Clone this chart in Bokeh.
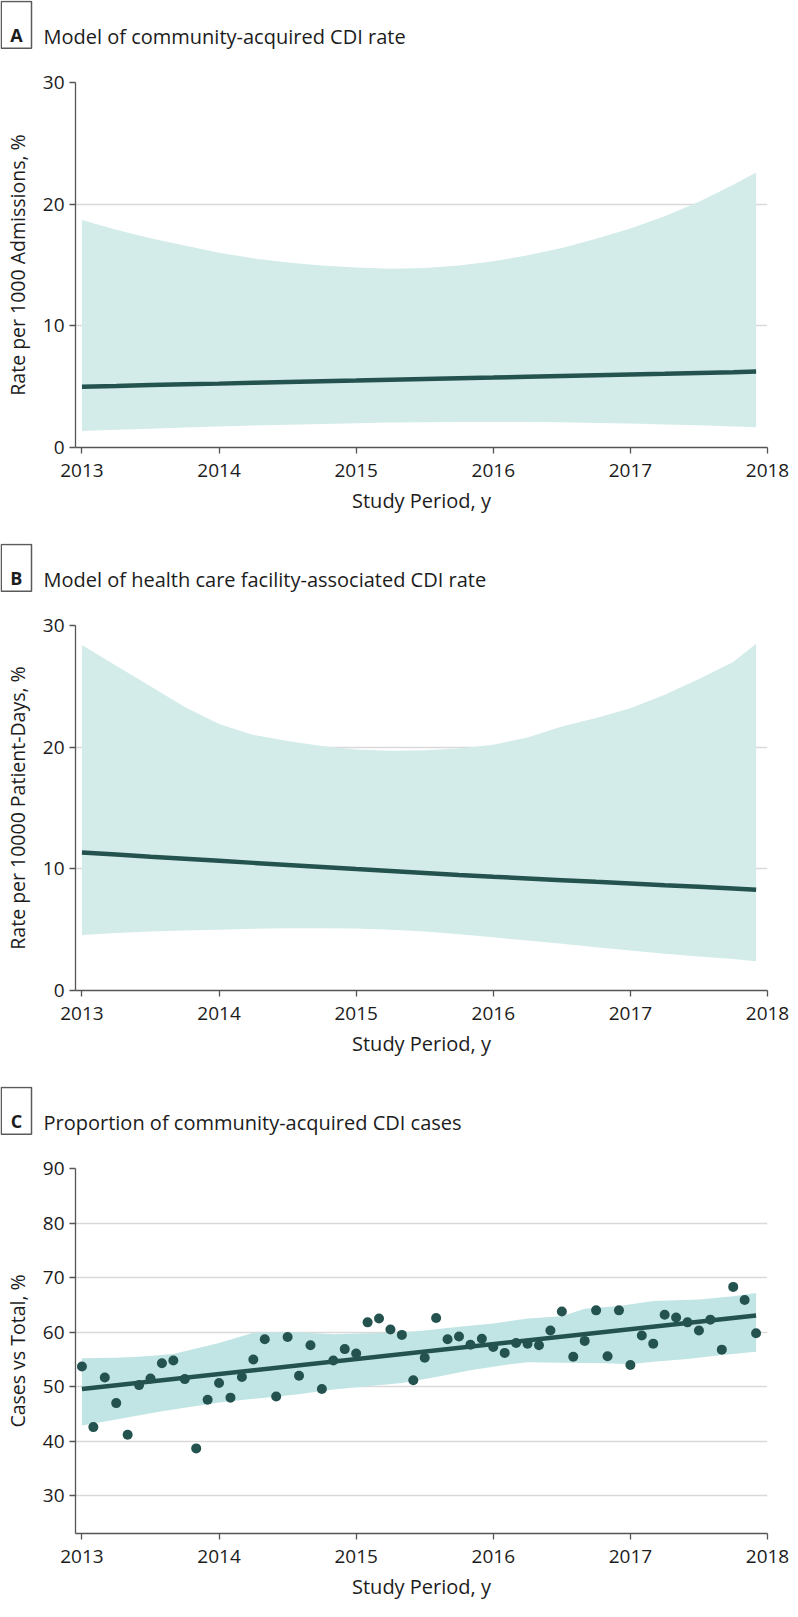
from bokeh.plotting import figure
from bokeh.layouts import column
from bokeh.models import FixedTicker, Range1d
from bokeh.core.properties import value
from bokeh.embed import file_html
from bokeh.resources import INLINE

# ---------------- data ----------------
year_ticks = [2013, 2014, 2015, 2016, 2017, 2018]

model_years = [2013.0, 2013.25, 2013.5, 2013.75, 2014.0, 2014.25, 2014.5, 2014.75, 2015.0, 2015.25, 2015.5,
               2015.75, 2016.0, 2016.25, 2016.5, 2016.75, 2017.0, 2017.25, 2017.5, 2017.75, 2017.917]

# Panel A: community-acquired CDI rate per 1000 admissions
a_fit = [5.0, 5.06, 5.13, 5.19, 5.25, 5.32, 5.38, 5.44, 5.5, 5.57, 5.63,
         5.69, 5.75, 5.82, 5.88, 5.94, 6.0, 6.06, 6.13, 6.19, 6.25]
a_upper = [18.7, 17.9, 17.2, 16.6, 16.0, 15.55, 15.2, 14.95, 14.8, 14.7, 14.75,
           14.95, 15.3, 15.8, 16.4, 17.15, 18.0, 19.0, 20.2, 21.6, 22.6]
a_lower = [1.35, 1.45, 1.55, 1.64, 1.72, 1.8, 1.88, 1.94, 2.0, 2.05, 2.08,
           2.1, 2.1, 2.09, 2.07, 2.02, 1.97, 1.9, 1.82, 1.73, 1.67]

# Panel B: health care facility-associated CDI rate per 10000 patient-days
b_fit = [11.35, 11.18, 11.0, 10.83, 10.66, 10.49, 10.32, 10.15, 9.98, 9.82, 9.66,
         9.5, 9.35, 9.21, 9.07, 8.93, 8.8, 8.66, 8.53, 8.39, 8.29]
b_upper = [28.4, 26.7, 25.0, 23.3, 21.9, 21.0, 20.5, 20.1, 19.8, 19.7, 19.75,
           19.9, 20.2, 20.8, 21.7, 22.4, 23.2, 24.3, 25.6, 27.0, 28.5]
b_lower = [4.57, 4.72, 4.85, 4.93, 5.0, 5.07, 5.12, 5.12, 5.1, 5.0, 4.85,
           4.63, 4.37, 4.1, 3.85, 3.56, 3.28, 3.03, 2.8, 2.58, 2.41]

# Panel C: monthly proportion of community-acquired cases (Jan 2013 - Dec 2017)
c_month_index = list(range(60))
c_pct = [53.7, 42.6, 51.7, 47.0, 41.2, 50.3, 51.5, 54.3, 54.8, 51.4,
         38.7, 47.6, 50.7, 48.0, 51.8, 55.0, 58.7, 48.2, 59.1, 52.0,
         57.6, 49.6, 54.8, 56.9, 56.1, 61.8, 62.5, 60.5, 59.5, 51.2,
         55.3, 62.6, 58.7, 59.2, 57.7, 58.8, 57.3, 56.2, 58.0, 57.9,
         57.6, 60.3, 63.8, 55.5, 58.4, 64.0, 55.6, 64.0, 54.0, 59.4,
         57.9, 63.2, 62.7, 61.8, 60.3, 62.3, 56.8, 68.3, 65.9, 59.8]
c_fit_months = [0, 59]
c_fit = [49.6, 63.05]
c_upper_months = [0, 3, 5, 8, 12, 15, 17, 19, 22, 25, 28, 30, 33, 36, 39, 42, 44, 47, 50, 54, 57, 59]
c_upper = [55.2, 55.3, 55.5, 56.0, 58.0, 59.9, 60.0, 60.0, 59.6, 59.8, 60.0, 60.3, 61.0, 61.6, 62.5, 62.9, 64.3, 64.8, 65.7, 66.0, 66.6, 67.2]
c_lower_months = [0, 3, 7, 12, 16, 19, 22, 25, 28, 31, 34, 37, 39, 42, 46, 48, 50, 53, 56, 59]
c_lower = [42.9, 44.0, 45.5, 47.1, 48.0, 48.6, 49.5, 50.1, 50.7, 51.8, 53.0, 54.0, 54.5, 54.4, 54.3, 54.1, 54.6, 55.1, 55.8, 56.4]

# ---------------- style ----------------
DARK = "#24524f"
BAND_AB = "#d3ecea"
BAND_C = "#c1e5e4"
AXIS = "#555555"
TXT = "#1c1c1c"
FONT = "Open Sans"

FIG_W = 798
HEADER_H = 60
HEADER_FRAME_TOP = 22   # the header's plot frame starts 22px below its top edge
BORDER_L = 70
BORDER_R = 31
BORDER_T = 22
FRAME_H = 365


def month_to_year(m):
    return 2013 + m / 12.0


def make_header(letter, title):
    # y range chosen so one data unit equals one pixel measured from the header's top edge
    h = figure(width=FIG_W, height=HEADER_H, output_backend="svg", toolbar_location=None,
               x_range=Range1d(0, FIG_W), y_range=Range1d(HEADER_H, HEADER_FRAME_TOP),
               x_axis_type=None, y_axis_type=None, frame_align=False,
               min_border=0, min_border_left=0, min_border_right=0,
               min_border_top=0, min_border_bottom=0, title_location=None)
    h.grid.visible = False
    h.outline_line_color = None
    h.border_fill_color = "white"
    h.quad(left=[0.75], right=[31.0], top=[22.7], bottom=[52.3],
           fill_color=None, line_color="#5a5a5a", line_width=1.5)
    h.text(x=[15.9], y=[43.8], text=[letter], text_font=value(FONT), text_font_style="bold",
           text_font_size=value("18px"), text_color=TXT, text_align="center",
           text_baseline="alphabetic")
    h.text(x=[43], y=[45], text=[title], text_font=value(FONT),
           text_font_size=value("20px"), text_color=TXT, text_align="left",
           text_baseline="alphabetic")
    return h


def make_panel(ylabel, yrange, yticks, height):
    bottom = height - BORDER_T - FRAME_H
    p = figure(width=FIG_W, height=height, output_backend="svg", toolbar_location=None,
               x_range=Range1d(2012.953, 2018.0), y_range=Range1d(*yrange), frame_align=False,
               min_border_left=BORDER_L, min_border_right=BORDER_R,
               min_border_top=BORDER_T, min_border_bottom=bottom, title_location=None)
    p.outline_line_color = None
    p.background_fill_color = "white"
    p.border_fill_color = "white"
    p.xgrid.grid_line_color = None
    p.ygrid.grid_line_color = "#d9d9d9"
    p.ygrid.grid_line_width = 1.5
    p.xaxis.ticker = FixedTicker(ticks=year_ticks)
    p.yaxis.ticker = FixedTicker(ticks=yticks)
    for ax in (p.xaxis[0], p.yaxis[0]):
        ax.axis_line_color = AXIS
        ax.axis_line_width = 1.3
        ax.major_tick_line_color = AXIS
        ax.major_tick_line_width = 1.3
        ax.major_tick_out = 6
        ax.major_tick_in = 0
        ax.minor_tick_line_color = None
        ax.major_label_text_font = FONT
        ax.major_label_text_font_size = "19px"
        ax.major_label_text_color = TXT
        ax.axis_label_text_font = FONT
        ax.axis_label_text_font_style = "normal"
        ax.axis_label_text_color = TXT
    p.xaxis.axis_label = "Study Period, y"
    p.xaxis.axis_label_text_font_size = "20px"
    p.yaxis.axis_label = ylabel
    p.yaxis.axis_label_text_font_size = "19.5px"
    p.xaxis.major_label_standoff = 10
    p.xaxis.axis_label_standoff = 7
    p.yaxis.major_label_standoff = 5
    p.yaxis.axis_label_standoff = 9
    return p


hA = make_header("A", "Model of community-acquired CDI rate")
pA = make_panel("Rate per 1000 Admissions, %", (0, 30), [0, 10, 20, 30], 483)
pA.varea(x=model_years, y1=a_lower, y2=a_upper, fill_color=BAND_AB)
pA.line(model_years, a_fit, line_color=DARK, line_width=4.5)

hB = make_header("B", "Model of health care facility-associated CDI rate")
pB = make_panel("Rate per 10000 Patient-Days, %", (0, 30), [0, 10, 20, 30], 483)
pB.varea(x=model_years, y1=b_lower, y2=b_upper, fill_color=BAND_AB)
pB.line(model_years, b_fit, line_color=DARK, line_width=4.5)

hC = make_header("C", "Proportion of community-acquired CDI cases")
pC = make_panel("Cases vs Total, %", (23.1, 90), [30, 40, 50, 60, 70, 80, 90], 471)
band_x = [month_to_year(m) for m in c_upper_months] + [month_to_year(m) for m in reversed(c_lower_months)]
band_y = list(c_upper) + list(reversed(c_lower))
pC.patch(band_x, band_y, fill_color=BAND_C, line_color=None)
pC.line([month_to_year(m) for m in c_fit_months], c_fit, line_color=DARK, line_width=4.5)
pC.scatter([month_to_year(m) for m in c_month_index], c_pct, size=10, fill_color=DARK, line_color=None)

layout = column(hA, pA, hB, pB, hC, pC, spacing=0)
open("out.html", "w").write(file_html(layout, INLINE))
